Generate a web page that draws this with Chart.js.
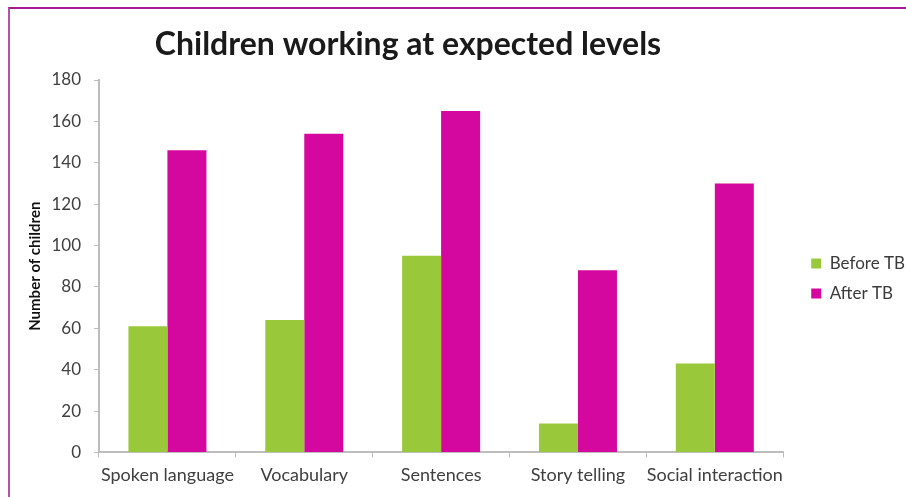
<!DOCTYPE html>
<html>
<head>
<meta charset="utf-8">
<script src="https://cdn.jsdelivr.net/npm/chart.js@4"></script>
<style>
  html, body { margin: 0; padding: 0; background: #fff; }
  .cv-frame { position: relative; width: 906px; height: 497px; }
  .cv-frame::before {
    content: ''; position: absolute; left: 8px; top: 7px; right: 0; bottom: 0;
    border-top: 2px solid #a51a92; border-left: 2px solid #b650a9; pointer-events: none;
  }
</style>
</head>
<body>
<div class="cv-frame">
  <canvas id="chart" width="906" height="497"></canvas>
</div>
<script>
const categories = ['Spoken language', 'Vocabulary', 'Sentences', 'Story telling', 'Social interaction'];
const beforeTB = [61, 64, 95, 14, 43];
const afterTB = [146, 154, 165, 88, 130];
const chartTitle = 'Children working at expected levels';
const yTitle = 'Number of children';

// title sits a bit left of the plot centre in the original, so draw it ourselves
const titlePlugin = {
  id: 'offsetTitle',
  afterDraw(chart) {
    const ctx = chart.ctx;
    ctx.save();
    ctx.font = 'bold 32px Lato';
    ctx.fillStyle = '#1a1a1a';
    ctx.textAlign = 'center';
    ctx.textBaseline = 'middle';
    ctx.fillText(chartTitle, 408, 45);
    ctx.restore();
  }
};

// nudge the legend away from the plot a little (Excel leaves a gap there)
const legendShift = {
  id: 'legendShift',
  afterLayout(chart) {
    const lg = chart.legend;
    lg.left += 15; lg.right += 15;
    lg.top -= 8; lg.bottom -= 8;
  }
};

const ctx = document.getElementById('chart').getContext('2d');
new Chart(ctx, {
  type: 'bar',
  data: {
    labels: categories,
    datasets: [
      { label: 'Before TB', data: beforeTB, backgroundColor: '#99c93a' },
      { label: 'After TB', data: afterTB, backgroundColor: '#d4089e' }
    ]
  },
  options: {
    responsive: false,
    animation: false,
    categoryPercentage: 0.57,
    barPercentage: 1,
    layout: { padding: { top: 80, bottom: 4, left: 22, right: 6 } },
    plugins: {
      title: { display: false },
      tooltip: { enabled: false },
      legend: {
        position: 'right',
        labels: {
          boxWidth: 10, boxHeight: 10, padding: 13,
          color: '#3a3a3a', font: { family: 'Lato', size: 17 }
        }
      }
    },
    scales: {
      x: {
        grid: { drawOnChartArea: false, tickLength: 5, color: '#bdbdbd' },
        border: { color: '#bdbdbd', width: 2 },
        ticks: {
          color: '#404040', padding: 7, maxRotation: 0, minRotation: 0, autoSkip: false,
          font: { family: 'Lato', size: 18 }
        }
      },
      y: {
        min: 0, max: 180,
        afterFit(scale) { scale.width = 77; },
        grid: { drawOnChartArea: false, tickLength: 5, color: '#bdbdbd' },
        border: { color: '#bdbdbd', width: 2 },
        ticks: { stepSize: 20, color: '#404040', padding: 13, font: { family: 'Lato', size: 17 } },
        title: {
          display: true, text: yTitle, color: '#111',
          font: { family: 'Lato', size: 15, weight: 'bold' },
          padding: { top: 4, bottom: 7 }
        }
      }
    }
  },
  plugins: [titlePlugin, legendShift]
});
</script>
</body>
</html>
